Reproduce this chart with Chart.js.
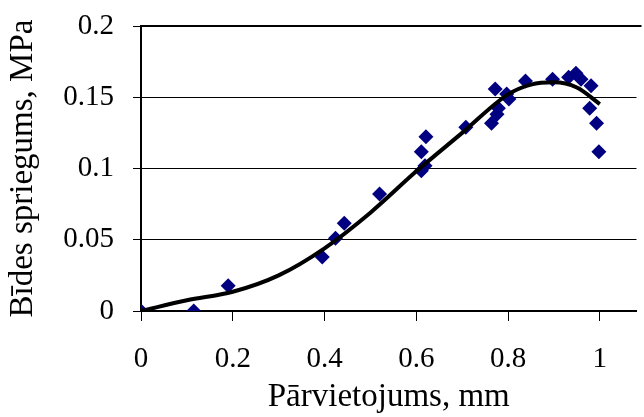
<!DOCTYPE html>
<html>
<head>
<meta charset="utf-8">
<script src="https://cdn.jsdelivr.net/npm/chart.js@4"></script>
<style>
  html, body { margin: 0; padding: 0; background: #fff; }
  #wrap { width: 644px; height: 417px; }
</style>
</head>
<body>
<div id="wrap"><canvas id="myChart" width="644" height="417"></canvas></div>
<script>
// measured points (displacement mm, stress MPa)
const dispX = [0, 0.115, 0.19, 0.395, 0.424, 0.443, 0.52, 0.611, 0.619, 0.611, 0.621, 0.708,
  0.764, 0.776, 0.779, 0.772, 0.797, 0.802, 0.838, 0.897, 0.932, 0.948, 0.959, 0.981, 0.978, 0.993, 0.998];
const stressY = [0, 0, 0.0178, 0.0379, 0.051, 0.0615, 0.0821, 0.0985, 0.102, 0.1118, 0.1223, 0.1289,
  0.1317, 0.138, 0.1422, 0.1558, 0.1523, 0.1488, 0.1614, 0.1626, 0.164, 0.1668, 0.1626, 0.1581, 0.1422, 0.1317, 0.1118];

// trend curve
const trendX = [0, 0.1, 0.2, 0.3, 0.4, 0.5, 0.6, 0.7, 0.8, 0.85, 0.9, 0.95, 1.0];
const trendY = [0, 0.0075, 0.0135, 0.025, 0.044, 0.069, 0.098, 0.125, 0.152, 0.1589, 0.1605, 0.1568, 0.1452];

const xTicks = [0, 0.2, 0.4, 0.6, 0.8, 1];
const yTicks = [0, 0.05, 0.1, 0.15, 0.2];

const font = "'Liberation Serif', 'Times New Roman', serif";

// top border of the plot
const topLine = {
  id: 'topLine',
  afterDraw(chart) {
    const { ctx, chartArea } = chart;
    ctx.save();
    ctx.strokeStyle = '#000';
    ctx.lineWidth = 2;
    ctx.beginPath();
    ctx.moveTo(chartArea.left - 1, chartArea.top);
    ctx.lineTo(chartArea.right + 5, chartArea.top);
    ctx.stroke();
    ctx.restore();
  }
};

const ctx = document.getElementById('myChart').getContext('2d');
new Chart(ctx, {
  type: 'scatter',
  data: {
    datasets: [
      {
        type: 'line',
        label: 'trend',
        data: trendX.map((x, i) => ({ x: x, y: trendY[i] })),
        borderColor: '#000',
        borderWidth: 4,
        pointRadius: 0,
        cubicInterpolationMode: 'monotone',
        fill: false
      },
      {
        label: 'data',
        data: dispX.map((x, i) => ({ x: x, y: stressY[i] })),
        backgroundColor: '#000080',
        borderColor: '#000080',
        borderWidth: 0,
        pointStyle: 'rectRot',
        pointRadius: 7.5
      }
    ]
  },
  options: {
    responsive: false,
    animation: false,
    layout: { padding: { top: 26, right: 2, left: 0, bottom: 0 } },
    plugins: { legend: { display: false }, tooltip: { enabled: false } },
    scales: {
      x: {
        type: 'linear',
        min: 0,
        max: 1.08,
        afterBuildTicks: (s) => { s.ticks = xTicks.map(v => ({ value: v })); },
        afterFit: (s) => { s.height = 106; s.paddingLeft = 0; s.paddingRight = 0; },
        border: { display: true, color: '#000', width: 2 },
        grid: { drawOnChartArea: false, drawTicks: true, tickLength: 10, tickColor: '#000', tickWidth: 1 },
        ticks: {
          color: '#000', font: { family: font, size: 29 }, padding: 21, maxRotation: 0,
          callback: (v) => String(v)
        },
        title: {
          display: true, text: 'Pārvietojums, mm', color: '#000',
          font: { family: font, size: 33 }, padding: { top: 0, bottom: 0 }
        }
      },
      y: {
        min: 0,
        max: 0.2,
        afterBuildTicks: (s) => { s.ticks = yTicks.map(v => ({ value: v })); },
        afterFit: (s) => { s.width = 141; s.paddingTop = 0; s.paddingBottom = 0; },
        border: { display: true, color: '#000', width: 2 },
        grid: {
          color: (c) => (c.tick && (c.tick.value === 0 || c.tick.value === 0.2)) ? 'rgba(0,0,0,0)' : '#000',
          lineWidth: 1, drawTicks: true, tickLength: 8, tickColor: '#000'
        },
        ticks: {
          color: '#000', font: { family: font, size: 29 }, padding: 19,
          callback: (v) => String(v)
        },
        title: {
          display: true, text: 'Bīdes spriegums, MPa', color: '#000',
          font: { family: font, size: 33 }, padding: { top: 4, bottom: 0 }
        }
      }
    }
  },
  plugins: [topLine]
});
</script>
</body>
</html>
